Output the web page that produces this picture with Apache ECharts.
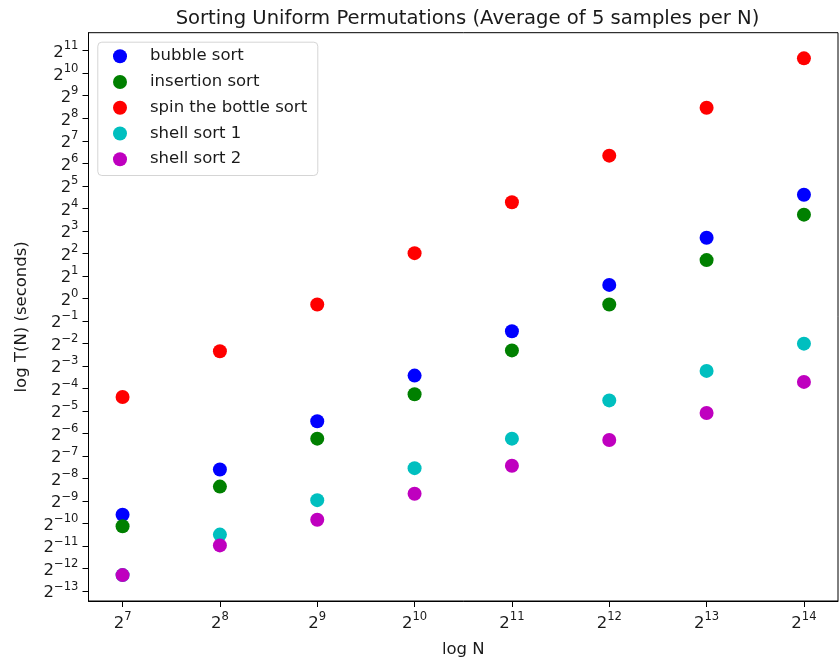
<!DOCTYPE html>
<html>
<head>
<meta charset="utf-8">
<script src="https://cdn.jsdelivr.net/npm/echarts@6/dist/echarts.min.js"></script>
<style>html,body{margin:0;padding:0;background:#fff}#c{width:840px;height:663px}</style>
</head>
<body>
<div id="c"></div>
<script>
// log2 of N
const logN = [7, 8, 9, 10, 11, 12, 13, 14];
// log2 of T(N) in seconds
const bubbleSort = [-9.61, -7.60, -5.46, -3.43, -1.46, 0.60, 2.69, 4.60];
const insertionSort = [-10.12, -8.36, -6.23, -4.26, -2.31, -0.27, 1.70, 3.72];
const spinBottleSort = [-4.38, -2.35, -0.27, 2.01, 4.27, 6.34, 8.47, 10.66];
const shellSort1 = [-12.29, -10.49, -8.96, -7.54, -6.23, -4.53, -3.22, -2.01];
const shellSort2 = [-12.29, -10.97, -9.83, -8.68, -7.43, -6.29, -5.09, -3.71];
const xTickExps = [7, 8, 9, 10, 11, 12, 13, 14];
const yTickExps = [-13, -12, -11, -10, -9, -8, -7, -6, -5, -4, -3, -2, -1, 0, 1, 2, 3, 4, 5, 6, 7, 8, 9, 10, 11];

const seriesDefs = [
  { name: 'bubble sort', values: bubbleSort, color: '#0000ff' },
  { name: 'insertion sort', values: insertionSort, color: '#008000' },
  { name: 'spin the bottle sort', values: spinBottleSort, color: '#ff0000' },
  { name: 'shell sort 1', values: shellSort1, color: '#00bfbf' },
  { name: 'shell sort 2', values: shellSort2, color: '#bf00bf' }
];

const FONT = 'DejaVu Sans';
function fmt(v) {
  const e = Math.round(v);
  const s = e < 0 ? '\u2212' + Math.abs(e) : String(e);
  return '{b|2}{s|' + s + '}';
}
const rich = {
  b: { fontFamily: FONT, fontSize: 16.5, color: '#1a1a1a', lineHeight: 21, verticalAlign: 'bottom' },
  s: { fontFamily: FONT, fontSize: 11.6, color: '#1a1a1a', lineHeight: 15, verticalAlign: 'top' }
};

const chart = echarts.init(document.getElementById('c'), null, { renderer: 'canvas' });
chart.setOption({
  animation: false,
  backgroundColor: '#fff',
  title: {
    text: 'Sorting Uniform Permutations (Average of 5 samples per N)',
    left: 462.5, top: 4, textAlign: 'center',
    textStyle: { fontFamily: FONT, fontSize: 19.6, fontWeight: 'normal', color: '#1a1a1a' }
  },
  graphic: [{
    type: 'rect', left: 97.3, top: 41.7, z: 3,
    shape: { width: 220, height: 133.3, r: 4 },
    style: { fill: 'rgba(255,255,255,0.8)', stroke: '#d5d5d5', lineWidth: 1 }
  }],
  legend: {
    orient: 'vertical',
    left: 113, top: 47.2,
    padding: 0,
    itemWidth: 14, itemHeight: 14, itemGap: 7.75,
    icon: 'circle',
    z: 4,
    textStyle: { fontFamily: FONT, fontSize: 16.5, color: '#1a1a1a', lineHeight: 18, padding: [0, 0, 0, 18] },
    data: seriesDefs.map(d => d.name)
  },
  grid: {
    left: 88.5, right: 2, top: 32.7, bottom: 61.3,
    show: true, borderColor: '#000', borderWidth: 1, backgroundColor: 'transparent'
  },
  xAxis: {
    type: 'value', min: 6.65, max: 14.35,
    name: 'log N', nameLocation: 'middle', nameGap: 40,
    nameTextStyle: { fontFamily: FONT, fontSize: 16.5, color: '#1a1a1a' },
    axisLine: { show: true, onZero: false, lineStyle: { color: '#000', width: 1 } },
    axisTick: { show: true, length: 6, lineStyle: { color: '#000' }, customValues: xTickExps },
    axisLabel: { margin: 10, formatter: fmt, rich: rich, customValues: xTickExps },
    splitLine: { show: false }
  },
  yAxis: {
    type: 'value', min: -13.44, max: 11.8,
    name: 'log T(N) (seconds)', nameLocation: 'middle', nameGap: 58, nameRotate: 90,
    nameTextStyle: { fontFamily: FONT, fontSize: 16.5, color: '#1a1a1a' },
    axisLine: { show: true, onZero: false, lineStyle: { color: '#000', width: 1 } },
    axisTick: { show: true, length: 6, lineStyle: { color: '#000' }, customValues: yTickExps },
    axisLabel: { margin: 10, formatter: fmt, rich: rich, customValues: yTickExps },
    splitLine: { show: false }
  },
  series: seriesDefs.map(d => ({
    name: d.name,
    type: 'scatter',
    symbol: 'circle',
    symbolSize: 14,
    itemStyle: { color: d.color, opacity: 1 },
    data: logN.map((x, i) => [x, d.values[i]])
  }))
});
</script>
</body>
</html>
